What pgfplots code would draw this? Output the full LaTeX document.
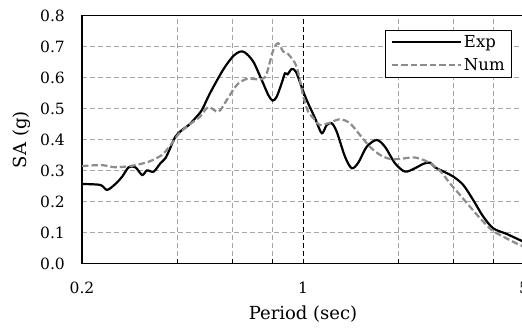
\documentclass[border=0pt]{standalone}
\usepackage{pgfplots}
\pgfplotsset{compat=1.18}
\usepackage{fontspec}
\setmainfont{DejaVu Serif}
\definecolor{numgray}{HTML}{8C8C8C}
\definecolor{gridgray}{HTML}{A6A6A6}
\begin{document}
\begin{tikzpicture}
\useasboundingbox (0,0) rectangle (522pt,328pt);
\begin{axis}[
  at={(82pt,64.3pt)}, anchor=south west,
  scale only axis, width=442pt, height=248pt,
  xmode=log, xmin=0.2, xmax=5, ymin=0, ymax=0.8,
  axis line style={line width=1.4pt, black},
  xtick={0.2,0.4,0.6,0.8,1,2,3,4,5}, xticklabels={0.2,,,,1,,,,5},
  extra x ticks={1},
  extra x tick labels={},
  extra x tick style={xmajorgrids=true, major x grid style={black, dash pattern=on 5pt off 3pt, line width=0.9pt}},
  xmajorgrids=true,
  major x grid style={gridgray, dash pattern=on 5pt off 3pt, line width=0.9pt},
  ytick={0,0.1,...,0.8},
  ymajorgrids=true,
  major y grid style={gridgray, dash pattern=on 5pt off 3pt, line width=0.9pt},
  major tick length=5pt,
  xtick style={black, line width=1pt},
  ytick style={draw=none},
  tick align=inside,
  xtick pos=bottom, ytick pos=left,
  /pgf/number format/assume math mode=true,
  yticklabel style={/pgf/number format/fixed, /pgf/number format/precision=1, /pgf/number format/fixed zerofill, anchor=east, inner sep=0pt, xshift=-17pt, font=\fontsize{15.5}{18}\selectfont},
  xticklabel style={anchor=north, inner sep=0pt, yshift=-18pt, font=\fontsize{15.5}{18}\selectfont},
  log ticks with fixed point,
  xlabel={Period (sec)},
  ylabel={SA (g)},
  xlabel style={at={(axis description cs:0.5,-0.2048)}, anchor=center, font=\fontsize{18}{21}\selectfont},
  ylabel style={at={(axis description cs:-0.1357,0.5)}, anchor=center, font=\fontsize{18}{21}\selectfont},
  legend style={at={(axis description cs:0.973,0.944)}, anchor=north east, draw=black, line width=0.8pt, fill=white, font=\fontsize{16.5}{19}\selectfont, inner xsep=5pt, inner ysep=3.5pt, row sep=5pt},
  legend cell align=left,
  legend image code/.code={\draw[#1] (0pt,0pt) -- (69pt,0pt);},
]
\addplot[black, line width=2.2pt, smooth, tension=0.5] table {
0.200 0.257
0.2285 0.254
0.240 0.238
0.255 0.257
0.268 0.281
0.281 0.311
0.295 0.311
0.310 0.286
0.321 0.301
0.337 0.297
0.354 0.324
0.367 0.340
0.378 0.367
0.395 0.410
0.414 0.431
0.435 0.447
0.456 0.469
0.479 0.496
0.508 0.550
0.560 0.627
0.602 0.670
0.632 0.684
0.656 0.681
0.696 0.652
0.740 0.593
0.777 0.544
0.802 0.526
0.826 0.539
0.856 0.582
0.877 0.614
0.894 0.611
0.921 0.628
0.950 0.619
0.990 0.570
1.027 0.528
1.091 0.470
1.146 0.421
1.188 0.447
1.232 0.453
1.278 0.426
1.358 0.345
1.426 0.308
1.496 0.326
1.590 0.377
1.710 0.399
1.817 0.377
1.954 0.324
2.102 0.297
2.260 0.308
2.401 0.322
2.522 0.326
2.615 0.311
2.812 0.295
2.988 0.281
3.213 0.254
3.456 0.205
3.716 0.152
3.998 0.114
4.407 0.096
5.000 0.070
};
\addlegendentry{Exp}
\addplot[numgray, line width=2.2pt, dash pattern=on 6.5pt off 3pt, smooth, tension=0.5] table {
0.200 0.315
0.231 0.318
0.255 0.311
0.288 0.316
0.325 0.329
0.358 0.351
0.385 0.388
0.404 0.418
0.435 0.447
0.472 0.474
0.502 0.505
0.540 0.490
0.574 0.528
0.617 0.576
0.664 0.596
0.740 0.595
0.768 0.614
0.805 0.689
0.835 0.711
0.866 0.684
0.898 0.676
0.955 0.635
1.002 0.539
1.039 0.490
1.091 0.464
1.131 0.447
1.217 0.455
1.309 0.466
1.408 0.453
1.514 0.415
1.629 0.377
1.752 0.351
1.884 0.338
2.026 0.338
2.233 0.343
2.401 0.335
2.522 0.324
2.712 0.300
2.916 0.259
3.136 0.222
3.373 0.184
3.628 0.147
3.950 0.109
4.299 0.087
4.856 0.060
5.000 0.057
};
\addlegendentry{Num}
\end{axis}
\end{tikzpicture}
\end{document}
